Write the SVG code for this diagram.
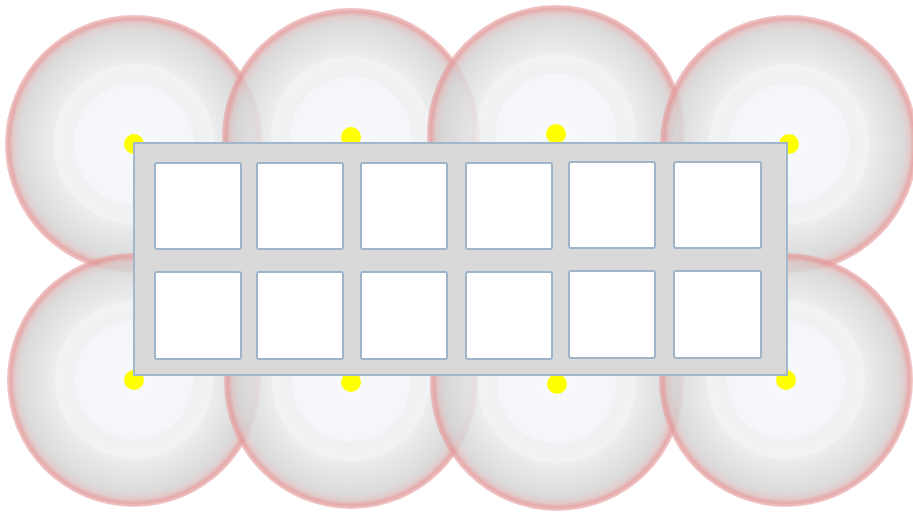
<svg xmlns="http://www.w3.org/2000/svg" width="913" height="512" viewBox="0 0 913 512">
<style>
.zone{fill:url(#g);opacity:0.85}
.dot{fill:#ffff00}
.frame{fill:#d9d9d9;stroke:#a3b7cb;stroke-width:2}
.cell{fill:#ffffff;stroke:#9fb4c9;stroke-width:2}
</style>
<defs>
<radialGradient id="g" cx="0.5" cy="0.5" r="0.5">
<stop offset="0" stop-color="#f6f8fb"/>
<stop offset="0.46" stop-color="#f2f4f7"/>
<stop offset="0.475" stop-color="#eceef0"/>
<stop offset="0.615" stop-color="#eff0f2"/>
<stop offset="0.63" stop-color="#e8e9eb"/>
<stop offset="0.88" stop-color="#d5d5d6"/>
<stop offset="0.935" stop-color="#dcc4c4"/>
<stop offset="0.97" stop-color="#e29a9a"/>
<stop offset="1" stop-color="#e8a4a4" stop-opacity="0.7"/>
</radialGradient>
</defs>
<g id="zones">
<g id="zone-1"><circle class="zone" cx="134" cy="144" r="129"/></g>
<g id="zone-2"><circle class="zone" cx="351" cy="137" r="129"/></g>
<g id="zone-3"><circle class="zone" cx="556" cy="134" r="129"/></g>
<g id="zone-4"><circle class="zone" cx="789" cy="144" r="129"/></g>
<g id="zone-5"><circle class="zone" cx="134" cy="380" r="127"/></g>
<g id="zone-6"><circle class="zone" cx="351" cy="382" r="127"/></g>
<g id="zone-7"><circle class="zone" cx="557" cy="384" r="127"/></g>
<g id="zone-8"><circle class="zone" cx="786" cy="380" r="127"/></g>
</g>
<g id="dots">
<circle class="dot" cx="134" cy="144" r="10"/>
<circle class="dot" cx="351" cy="137" r="10"/>
<circle class="dot" cx="556" cy="134" r="10"/>
<circle class="dot" cx="789" cy="144" r="10"/>
<circle class="dot" cx="134" cy="380" r="10"/>
<circle class="dot" cx="351" cy="382" r="10"/>
<circle class="dot" cx="557" cy="384" r="10"/>
<circle class="dot" cx="786" cy="380" r="10"/>
</g>
<g id="rack">
<rect class="frame" x="134" y="143" width="653" height="232"/>
<rect class="cell" x="155" y="163" width="86" height="86" rx="2"/>
<rect class="cell" x="257" y="163" width="86" height="86" rx="2"/>
<rect class="cell" x="361" y="163" width="86" height="86" rx="2"/>
<rect class="cell" x="466" y="163" width="86" height="86" rx="2"/>
<rect class="cell" x="569" y="162" width="86" height="86" rx="2"/>
<rect class="cell" x="674" y="162" width="87" height="86" rx="2"/>
<rect class="cell" x="155" y="272" width="86" height="87" rx="2"/>
<rect class="cell" x="257" y="272" width="86" height="87" rx="2"/>
<rect class="cell" x="361" y="272" width="86" height="87" rx="2"/>
<rect class="cell" x="466" y="272" width="86" height="87" rx="2"/>
<rect class="cell" x="569" y="271" width="86" height="87" rx="2"/>
<rect class="cell" x="674" y="271" width="87" height="87" rx="2"/>
</g>
<g id="connectors"/>
</svg>
